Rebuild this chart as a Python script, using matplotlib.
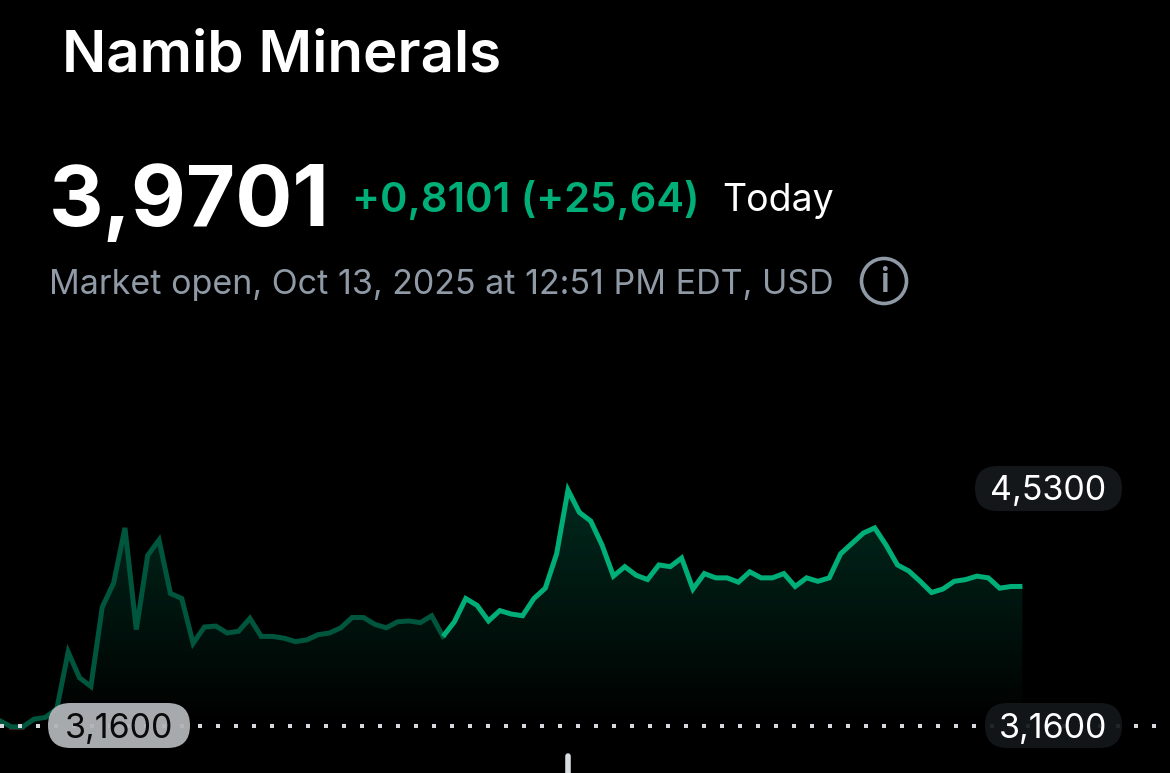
import numpy as np
import matplotlib
matplotlib.use('Agg')
import matplotlib.pyplot as plt
from matplotlib.patches import FancyBboxPatch, Circle, Polygon

# price readings, one per time step
prices = [3.19, 3.155, 3.155, 3.20, 3.21, 3.26, 3.59, 3.44, 3.39, 3.85,
          3.99, 4.31, 3.72, 4.15, 4.24, 3.93, 3.90, 3.64, 3.735, 3.74,
          3.70, 3.71, 3.785, 3.68, 3.68, 3.67, 3.65, 3.66, 3.69, 3.70,
          3.73, 3.79, 3.79, 3.75, 3.73, 3.765, 3.77, 3.76, 3.80, 3.68,
          3.765, 3.90, 3.86, 3.77, 3.83, 3.81, 3.80, 3.90, 3.96, 4.16,
          4.53, 4.40, 4.35, 4.21, 4.03, 4.085, 4.035, 4.01, 4.095, 4.085,
          4.135, 3.955, 4.045, 4.02, 4.02, 3.995, 4.055, 4.02, 4.02, 4.045,
          3.97, 4.02, 4.00, 4.02, 4.16, 4.22, 4.28, 4.31, 4.21, 4.095,
          4.06, 4.00, 3.935, 3.955, 4.00, 4.01, 4.03, 4.02, 3.96, 3.97, 3.9701]
prev_close = 3.16
high_label = '4,5300'
low_label = '3,1600'
split_at = 39  # scrubbed position: dimmer to the left of it

BG = '#000000'
GREEN = '#00AE78'
DIM = '#00553D'
RED = '#5E0F1C'
GREY = '#8F9AA6'

W, H = 1170, 773
fig = plt.figure(figsize=(W / 100, H / 100), dpi=100, facecolor=BG)

# chart axes, mapped so one step is 11.36 px and 1.37 price units is 236 px
ax = fig.add_axes([0, 0, 1, 1], facecolor='none')
per_px = (4.53 - 3.16) / 236
ax.axis('off')

x = np.arange(len(prices))
y = np.array(prices)

# green fill fading out towards the previous close
grad = np.zeros((256, 2, 4))
grad[..., :3] = (0.0, 0.66, 0.46)
grad[..., 3] = np.linspace(0.25, 0, 256)[:, None]
im = ax.imshow(grad, extent=[x[0], x[-1], prev_close, max(prices)],
               origin='upper', aspect='auto', zorder=1)
verts = list(zip(x, y)) + [(x[-1], prev_close), (x[0], prev_close)]
poly = Polygon(verts, closed=True, facecolor='none', edgecolor='none',
               transform=ax.transData)
ax.add_patch(poly)
im.set_clip_path(poly)

ax.set_xlim(0, W / 11.36)
ax.set_ylim(3.16 - (H - 726) * per_px, 3.16 + 726 * per_px)

below = y < prev_close
ax.plot(x[below], y[below] - 0.006, color=RED, lw=2.6, zorder=1.5)
ax.plot(x[:split_at + 1], y[:split_at + 1], color=DIM, lw=3.6,
        solid_joinstyle='miter', zorder=2)
ax.plot(x[split_at:], y[split_at:], color=GREEN, lw=3.6,
        solid_joinstyle='miter', solid_capstyle='butt', zorder=3)

# overlay in pixel coordinates for the app furniture
ov = fig.add_axes([0, 0, 1, 1], facecolor='none')
ov.set_xlim(0, W)
ov.set_ylim(H, 0)
ov.axis('off')

dots = np.arange(1.7, W - 10, 18)
ov.plot(dots, [726] * len(dots), ls='none',
        marker='s', ms=2.2, mew=0, color='#D5D9DD', zorder=4)


def pill(x0, x1, y0, y1, color, label, tcolor, alpha=1.0, weight='normal'):
    ov.add_patch(FancyBboxPatch((x0, y0), x1 - x0, y1 - y0,
                                boxstyle=f'round,pad=0,rounding_size={(y1 - y0) / 2}',
                                fc=color, ec='none', alpha=alpha, zorder=5))
    ov.text((x0 + x1) / 2, (y0 + y1) / 2 + 3, label, color=tcolor, fontweight=weight,
            fontsize=24.5, family='Inter', ha='center', va='center', zorder=6)


pill(975, 1122, 466, 511, '#14171A', high_label, '#FFFFFF')
pill(985, 1122, 703, 748, '#14171A', low_label, '#FFFFFF', alpha=0.93)
pill(48, 190, 703, 748, '#B0B4B8', low_label, '#0A0A0A', alpha=0.95)

ov.plot([568, 568], [756, 780], color='#D8DCE0', lw=4,
        solid_capstyle='round', zorder=4)

ov.text(62, 56, 'Namib Minerals', color='white', fontsize=42, fontweight='semibold',
        family='Inter', va='center', ha='left')
ov.text(49, 203, '3,9701', color='white', fontsize=61, fontweight='bold',
        family='Inter', va='center', ha='left')
ov.text(352, 200, '+0,8101 (+25,64)', color=GREEN, fontsize=30, fontweight='semibold',
        family='Inter', va='center', ha='left')
ov.text(722, 201, 'Today', color='white', fontsize=27,
        family='Inter', va='center', ha='left')
ov.text(49, 285, 'Market open, Oct 13, 2025 at 12:51 PM EDT, USD', color=GREY,
        fontsize=24.5, family='Inter', va='center', ha='left')

ov.add_patch(Circle((884, 281), 22.5, fc='none', ec=GREY, lw=2.6))
ov.text(884, 283, 'i', color=GREY, fontsize=24, fontweight='semibold', family='Inter',
        ha='center', va='center')

fig.savefig('out.png', dpi=100, facecolor=BG)
